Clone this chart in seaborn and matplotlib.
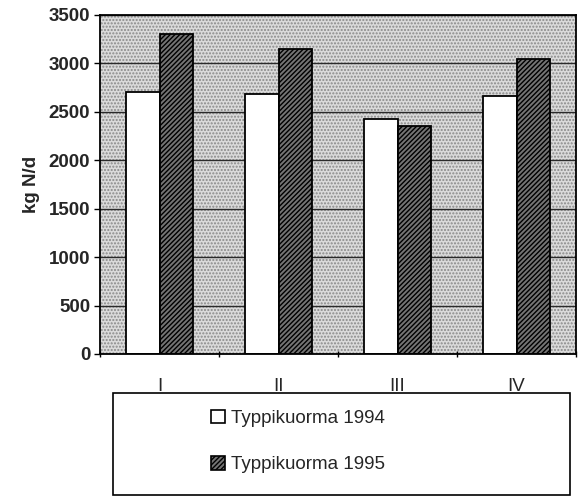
import matplotlib
matplotlib.use('Agg')
import matplotlib.pyplot as plt
import seaborn as sns
import pandas as pd
from matplotlib.patches import Rectangle, Patch

categories = ['I', 'II', 'III', 'IV']
series = ['Typpikuorma 1994', 'Typpikuorma 1995']
values_1994 = [2700, 2680, 2430, 2660]
values_1995 = [3300, 3150, 2350, 3050]
yticks = [0, 500, 1000, 1500, 2000, 2500, 3000, 3500]

df = pd.DataFrame({
    'cat': categories * 2,
    'series': [series[0]] * len(categories) + [series[1]] * len(categories),
    'value': values_1994 + values_1995,
})

sns.set_theme(style='white')
plt.rcParams['font.family'] = ['Liberation Sans', 'DejaVu Sans']
plt.rcParams['hatch.linewidth'] = 1.0

fig = plt.figure(figsize=(5.79, 4.98), dpi=100)
ax = fig.add_axes([100 / 579, 1 - 354 / 498, 476 / 579, 339 / 498])

sns.barplot(data=df, x='cat', y='value', hue='series', order=categories,
            hue_order=series, width=0.56, palette=['white', '#747474'],
            saturation=1, edgecolor='black', linewidth=1.3, errorbar=None,
            legend=False, ax=ax, zorder=2)
for bar in ax.containers[1]:
    bar.set_hatch('///////')

# stippled background
ax.add_patch(Rectangle((0, 0), 1, 1, transform=ax.transAxes, facecolor='#dadada',
                       edgecolor='#888888', hatch='.....', lw=0, zorder=0))
ax.set_axisbelow(True)
ax.yaxis.grid(True, color='#2a2a2a', linewidth=1.0, zorder=1)
ax.xaxis.grid(False)

ax.set_ylim(0, 3500)
ax.set_yticks(yticks)
ax.set_yticklabels([str(v) for v in yticks], fontsize=13.5, fontweight='bold')
ax.tick_params(axis='y', length=4, width=1, color='black', pad=3, left=True)

ax.set_xlim(-0.5, len(categories) - 0.5)
ax.set_xticks(range(len(categories)))
ax.set_xticklabels(categories, fontsize=13.5)
ax.set_xticks([i - 0.5 for i in range(len(categories) + 1)], minor=True)
ax.tick_params(axis='x', which='major', length=0, pad=17)
ax.tick_params(axis='x', which='minor', length=5, width=1, color='black',
               direction='inout', bottom=True)
ax.set_xlabel('')
ax.set_ylabel('kg N/d', fontsize=13.5, fontweight='bold', labelpad=6)

for s in ax.spines.values():
    s.set_visible(True)
    s.set_color('black')
    s.set_linewidth(1.3)

# legend box
fig.add_artist(Rectangle((113 / 579, 1 - 495 / 498), (570 - 113) / 579, (495 - 393) / 498,
                         transform=fig.transFigure, fill=False, edgecolor='black', lw=1.2))
handles = [Patch(facecolor='white', edgecolor='black', lw=1.2),
           Patch(facecolor='#747474', edgecolor='black', hatch='///////', lw=1.2)]
fig.legend(handles, series, loc='upper left', bbox_to_anchor=(203 / 579, 1 - 402 / 498),
           frameon=False, fontsize=13.5, labelspacing=1.55, handlelength=0.75,
           handleheight=0.75, handletextpad=0.35, borderaxespad=0)

fig.savefig('out.png', dpi=100)
